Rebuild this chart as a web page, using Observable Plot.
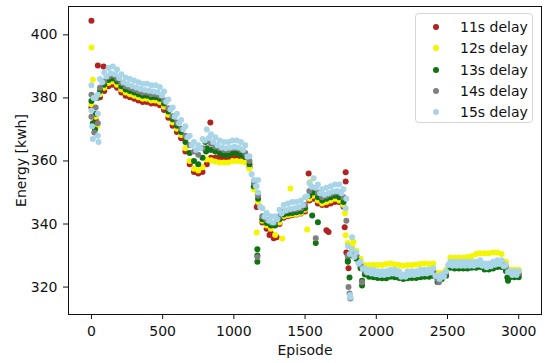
<!DOCTYPE html>
<html>
<head>
<meta charset="utf-8">
<script src="https://cdn.jsdelivr.net/npm/d3@7"></script>
<script src="https://cdn.jsdelivr.net/npm/@observablehq/plot@0.6"></script>
<style>
  body { margin: 0; background: #fff; }
  #wrap { position: relative; width: 550px; height: 363px; }
  .legend { position: absolute; left: 415px; top: 13px; width: 118px; height: 110px;
    border: 1px solid #d6d6d6; border-radius: 4px; background: rgba(255,255,255,0.85);
    font: 14px "DejaVu Sans", sans-serif; color: #111; box-sizing: border-box; }
  .row { position: absolute; left: 0; width: 118px; height: 20px; }
  .mk { position: absolute; left: 17px; top: 7px; width: 6px; height: 6px; border-radius: 50%; }
  .lb { position: absolute; left: 44px; top: 1px; line-height: 18px; white-space: nowrap; }
</style>
</head>
<body>
<div id="wrap"></div>
<script>
const seriesNames = ["11s delay", "12s delay", "13s delay", "14s delay", "15s delay"];
const seriesColors = ["#b22222", "#f5f500", "#0f730f", "#808080", "#a9d5e8"];
const xTicks = [0, 500, 1000, 1500, 2000, 2500, 3000];
const yTicks = [320, 340, 360, 380, 400];

const episodes = [0,30,60,90,120,150,180,210,240,270,300,330,360,390,420,450,480,510,540,570,600,630,660,690,720,750,780,810,840,870,900,930,960,990,1020,1050,1080,1110,1140,1170,1200,1230,1260,1290,1320,1350,1380,1410,1440,1470,1500,1530,1560,1590,1620,1650,1680,1710,1740,1770,1800,1830,1860,1890,1920,1950,1980,2010,2040,2070,2100,2130,2160,2190,2220,2250,2280,2310,2340,2370,2400,2430,2460,2490,2520,2550,2580,2610,2640,2670,2700,2730,2760,2790,2820,2850,2880,2910,2940,2970,3000];
const midEpisodes = [15,45,75,105,135,165,195,225,255,285,315,345,375,405,435,465,495,525,555,585,615,645,675,705,735,765,795,825,855,885,915,945,975,1005,1035,1065,1095,1125,1155,1185,1215,1245,1275,1305,1335,1365,1395,1425,1455,1485,1515,1545,1575,1605,1635,1665,1695,1725,1755,1785,1815,1845,1875,1905,1935,1965,1995,2025,2055,2085,2115,2145,2175,2205,2235,2265,2295,2325,2355,2385,2415,2445,2475,2505,2535,2565,2595,2625,2655,2685,2715,2745,2775,2805,2835,2865,2895,2925,2955,2985];

const delay11 = [377,373,380.2,382.2,383.7,384.2,383.2,381.7,380.7,380.2,379.7,379.2,378.7,378.7,378.2,378.2,377.7,376.2,373.7,371.2,369.2,367.2,
  363,359,356.5,356,356.5,359,361,361,361,360.8,360.8,361,361,360.8,360.3,
  358,351.5,346,340.5,338.5,337,336,340,342,342.5,342.8,343,343.3,344,347.5,348,346.5,346,346,346.5,347,347,345.5,330,331,330,326.5,324.5,
  324.3,324.3,324,324,324,324.5,324.5,324,323.5,324,324,324,324.3,324.5,324.5,325,323,323.5,324.5,327,327,327,327,327,327,327.2,327.5,326.8,326.8,327,327.5,327.5,326,324,324,324];
const delay12 = [378,374,381.2,383.2,384.7,385.2,384.2,382.7,381.7,381.2,380.7,380.2,379.7,379.7,379.2,379.2,378.7,377.2,374.7,372.2,370.2,368.2,
  364,360,357.5,357,358,360.5,360.2,359.8,359.5,359.5,359.5,360,360,359.8,359.5,
  357.5,351,347,341,339.5,338.5,336.5,340.5,342.5,342.8,343,343.2,343.5,344.5,348,349,347.5,346.5,347,347.5,348,347.5,346,334,333,331.5,329,327,
  327,327,327,327,327.3,327.5,327.2,327,326.8,327,327,327.2,327.3,327.5,327.3,327.5,324.5,324.5,325.5,329.3,329.3,329.3,329.3,329.5,329.8,330.5,330.7,330.7,330.7,331,331,330.5,328,325.5,325.5,325.5];
const delay13 = [379,375,382.2,384.2,385.7,386.2,385.2,383.7,382.7,382.2,381.7,381.2,380.7,380.7,380.2,380.2,379.7,378.2,375.7,373.2,371.2,369.2,
  366,362.5,360,359,361,364,363.5,363,362.5,362,362,362.5,362.5,362,361.3,
  359,352,348,341.5,340.3,339.5,339.5,341.5,343,343.3,343.5,343.7,344,345,349,350,348.5,347.5,348,348.5,349,348.5,347,328,330,329,326,324,
  323.3,323.1,322.9,322.8,322.8,323.3,323.1,322.9,322.6,322.8,322.9,322.9,323.1,323.3,323.3,323.6,321.6,322.6,323.6,326.1,325.9,325.9,325.9,325.9,326.1,326.1,326.4,325.6,325.6,325.9,326.4,326.4,325.1,323.1,323.1,323.1];
const delay14 = [381,377,383.2,385.2,386.7,387.2,386.2,384.7,383.7,383.2,382.7,382.2,381.7,381.7,381.2,381.2,380.7,379.2,376.7,374.2,372.2,370.2,
  368,365,363,362,364,366.5,365.5,364.5,364,363.5,363.5,364,364,363.5,362.5,
  360,353,349,342.5,341.3,340.5,340.5,342.5,344,344.3,344.5,344.7,345,346,350.5,351.5,350,348.5,349,349.5,350,350,348.5,330,331,330,327,325,
  324.7,324.7,324.3,324.2,324.2,324.7,324.7,324.3,323.5,324.2,324.2,324,324.5,324.7,324.7,325,322.5,323.5,324.5,327.5,327.3,327.3,327.3,327.3,327.5,327.5,327.8,327,327,327.3,327.8,327.8,326.5,324.5,324.5,324.5];
const delay15 = [384,380,386,388,389.5,390,389,387.5,386.5,386,385.5,385,384.5,384.5,384,384,383.5,382,379.5,377,375,373,
  371,368,366,365,367,370,368.5,367.5,366.5,366,366,366.5,366.5,366,365,
  361.5,354,350,345,343.5,342.5,342.5,344.5,346,346.5,347,347,347.5,348.5,353,354.5,352.5,351,351.5,352,352.5,352.5,351,333,332,331,328,326,
  325.5,325.5,325,325,325,325.5,325.5,325,324,325,325,325,325.5,325.5,325.5,326,323.5,324,325,328,328,328,328,328,328,328,328.5,327.5,327.5,328,328.5,328.5,327,325,325,325];
// 15s delay readings between the grid episodes (lower edge of its band)
const delay15Mid = [380,381,385,386.8,387.8,387.5,386.3,385,384.3,383.8,383.3,382.8,382.5,382.3,382,381.8,380.8,378.8,376.3,374,372,370,
  367.5,365,363.5,364,366.5,367.3,366,365,364.3,364,364.3,364.5,364.3,363.5,361.3,
  355.8,352,345.5,342.3,341,340.5,341.5,343.3,344.3,344.8,345,345.3,346,348.8,351.8,351.5,349.8,349.3,349.8,350.3,350.5,349.8,345,330.5,329.5,327.5,
  325.8,324.6,324.3,324.1,323.8,323.8,324.1,324.3,324.1,323.3,323.3,323.8,323.8,324.1,324.3,324.3,324.6,323.6,322.6,323.3,327,326.8,326.8,326.8,326.8,326.8,326.8,327.1,326.8,326.3,326.6,327.1,327.3,326.6,324.8,323.8,323.8];

// scattered single points [episode, energy]
const extra11 = [[0,404.5],[45,390.3],[85,390],[835,372.2],[1160,345.4],[1250,336.5],[1280,335.5],[1300,335.8],[1525,356],[1650,338],[1665,337.5],[1785,356.4],[1785,353.5],[1778,339],[1790,331],[1805,326]];
const extra12 = [[0,396],[10,385.8],[40,371],[1165,349.7],[1160,337.3],[1340,335.4],[1397,351.3],[1535,353.3],[1515,338.3],[1780,343.4],[1785,336.4],[1840,334.3]];
const extra13 = [[10,372],[25,370],[40,380],[800,366],[805,363],[1165,332],[1165,330],[1165,328],[1550,342.7],[1590,340.6],[1575,334],[1812,323],[1800,328.4],[1900,322],[1900,320.5],[2920,323],[2925,322]];
const extra14 = [[0,374],[20,369],[45,372],[1165,329.5],[1575,335.5],[1790,341],[1805,320],[1812,318],[1818,316.4],[2440,321.5],[1900,321.5]];
const extra15 = [[0,376],[5,371],[10,367],[45,375],[45,368],[50,366],[1815,317.5],[1818,316.7],[1830,335.8],[1790,348],[1160,352],[1170,354]];

const mainSeries = [delay11, delay12, delay13, delay14, delay15];
const extraSeries = [extra11, extra12, extra13, extra14, extra15];
mainSeries.forEach((s, k) => { if (s.length !== episodes.length) console.error("length mismatch", k, s.length); });
if (delay15Mid.length !== midEpisodes.length) console.error("mid length mismatch", delay15Mid.length);

const rows = [];
seriesNames.forEach((name, k) => {
  mainSeries[k].forEach((v, i) => rows.push({ep: episodes[i], energy: v, series: name}));
  if (k === 4) delay15Mid.forEach((v, i) => rows.push({ep: midEpisodes[i], energy: v, series: name}));
  extraSeries[k].forEach(([e, v]) => rows.push({ep: e, energy: v, series: name}));
});

const chart = Plot.plot({
  width: 550, height: 363,
  marginLeft: 68, marginRight: 9, marginTop: 6, marginBottom: 49,
  style: {fontFamily: "DejaVu Sans, sans-serif", fontSize: "14px", color: "#111", background: "#fff"},
  x: {domain: [-161, 3160]},
  y: {domain: [311.3, 409]},
  color: {domain: seriesNames, range: seriesColors},
  marks: [
    Plot.dot(rows, {x: "ep", y: "energy", fill: "series", r: 3}),
    Plot.frame({stroke: "#111", strokeWidth: 1}),
    Plot.axisX({ticks: xTicks, tickFormat: d => String(d), tickSize: 5, tickPadding: 7, label: "Episode", labelAnchor: "center", labelArrow: "none", labelOffset: 40}),
    Plot.axisY({ticks: yTicks, tickFormat: d => String(d), tickSize: 5, tickPadding: 6, label: "Energy [kwh]", labelAnchor: "center", labelArrow: "none", labelOffset: 52})
  ]
});
const wrap = document.getElementById("wrap");
wrap.appendChild(chart);

const legend = document.createElement("div");
legend.className = "legend";
seriesNames.forEach((name, k) => {
  const row = document.createElement("div");
  row.className = "row";
  row.style.top = (3 + k * 21.25) + "px";
  const mk = document.createElement("span");
  mk.className = "mk";
  mk.style.background = seriesColors[k];
  const lb = document.createElement("span");
  lb.className = "lb";
  lb.textContent = name;
  row.appendChild(mk); row.appendChild(lb);
  legend.appendChild(row);
});
wrap.appendChild(legend);
</script>
</body>
</html>
